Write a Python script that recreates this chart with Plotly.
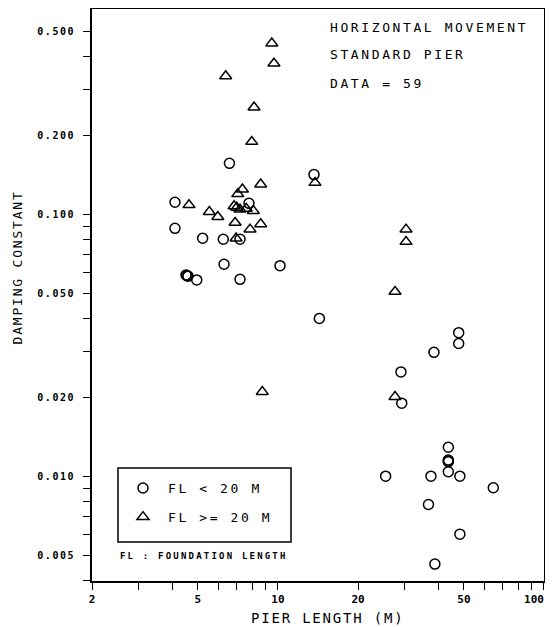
import plotly.graph_objects as go
import math

# ---- data (pier length [m], damping constant) ----
circle_x = [6.57, 13.66, 4.10, 7.78, 4.10, 5.21, 6.23, 7.20, 6.27, 10.18,
            4.51, 4.59, 4.55, 4.95, 7.20, 14.31, 47.8, 47.8, 38.6, 29.0,
            29.2, 43.7, 43.7, 43.7, 43.7, 43.7, 25.4, 37.6, 48.3, 64.5,
            36.8, 48.3, 38.9]
circle_y = [0.1563, 0.1416, 0.111, 0.110, 0.0883, 0.0809, 0.0802, 0.0803, 0.0644, 0.0636,
            0.0586, 0.0580, 0.0583, 0.0561, 0.0564, 0.0400, 0.0353, 0.0321, 0.0297, 0.0250,
            0.0190, 0.0129, 0.01152, 0.01135, 0.01143, 0.0104, 0.0100, 0.0100, 0.0100, 0.00903,
            0.0078, 0.00601, 0.00462]

tri_x = [9.48, 9.66, 6.36, 8.13, 7.97, 8.61, 13.78, 7.35, 7.06, 4.63,
         6.84, 7.20, 8.08, 5.52, 5.94, 6.90, 8.61, 7.85, 6.96, 30.3,
         30.3, 27.55, 27.55, 8.73, 7.6, 7.0]
tri_y = [0.449, 0.376, 0.3366, 0.2557, 0.189, 0.130, 0.1318, 0.1244, 0.1194, 0.1084,
         0.1074, 0.1043, 0.1030, 0.1021, 0.0977, 0.0928, 0.0917, 0.0875, 0.0809, 0.0875,
         0.0785, 0.0506, 0.0201, 0.0210, 0.1050, 0.1060]

x_tickvals = [2, 3, 4, 5, 6, 7, 8, 9, 10, 20, 30, 40, 50, 60, 70, 80, 90, 100]
# the last label sits at the right edge; trailing no-break spaces nudge it left like the original
x_ticklabels = {2: "2", 5: "5", 10: "10", 20: "20", 50: "50", 100: "100\u00a0\u00a0\u00a0"}
y_tickvals = [0.004, 0.005, 0.006, 0.007, 0.008, 0.009, 0.01, 0.02, 0.03, 0.04, 0.05,
              0.06, 0.07, 0.08, 0.09, 0.1, 0.2, 0.3, 0.4, 0.5]
y_ticklabels = {0.005: "0.005", 0.01: "0.010", 0.02: "0.020", 0.05: "0.050",
                0.1: "0.100", 0.2: "0.200", 0.5: "0.500"}

FONT = "DejaVu Sans Mono"


def sp(text, px):
    if not text:
        return ""
    return f'<span style="letter-spacing:{px}px">{text}</span>'


fig = go.Figure()
fig.add_trace(go.Scatter(
    x=circle_x, y=circle_y, mode="markers", name=sp("FL &lt; 20 M", 2.6),
    legendgroup="a",
    marker=dict(symbol="circle-open", size=10, color="black", line=dict(width=1.5, color="black"))))
fig.add_trace(go.Scatter(
    x=tri_x, y=tri_y, mode="markers", name=sp("FL &gt;= 20 M", 2.6),
    legendgroup="b",
    marker=dict(symbol="triangle-up-open", size=10.5, color="black", line=dict(width=1.5, color="black"))))

fig.update_xaxes(
    type="log", range=[math.log10(2) - 0.0002, 2.0002], automargin=False,
    tickvals=x_tickvals,
    ticktext=[x_ticklabels.get(v, "") for v in x_tickvals], tickangle=0,
    ticklabeloverflow="allow",
    ticks="outside", ticklen=7, tickwidth=1.3, tickcolor="black",
    showline=True, linecolor="black", linewidth=1.5, mirror=True,
    showgrid=False, zeroline=False,
    tickfont=dict(family=FONT, size=11, color="black", weight="bold"),
)
fig.update_yaxes(
    type="log", range=[-2.400, -0.217], automargin=False,
    tickvals=y_tickvals,
    ticktext=[sp(y_ticklabels.get(v, ""), 1.6) for v in y_tickvals], tickangle=0,
    ticklabeloverflow="allow",
    ticks="outside", ticklen=7, tickwidth=1.3, tickcolor="black",
    showline=True, linecolor="black", linewidth=1.5, mirror=True,
    showgrid=False, zeroline=False, ticklabelstandoff=6,
    tickfont=dict(family=FONT, size=10, color="black", weight="bold"),
)

ann_font = dict(family=FONT, size=13, color="black")
annotations = [
    dict(text=sp("HORIZONTAL MOVEMENT", 2.6), x=0.522, y=0.967),
    dict(text=sp("STANDARD PIER", 2.6), x=0.522, y=0.9196),
    dict(text=sp("DATA = 59", 2.6), x=0.522, y=0.8706),
]
for a in annotations:
    fig.add_annotation(xref="paper", yref="paper", xanchor="left", yanchor="middle",
                       showarrow=False, font=ann_font, **a)

fig.add_annotation(text=sp("FL : FOUNDATION LENGTH", 2.2), xref="paper", yref="paper",
                   x=0.0575, y=0.0437, xanchor="left", yanchor="middle", showarrow=False,
                   font=dict(family=FONT, size=9, color="black", weight="bold"))
fig.add_annotation(text=sp("PIER LENGTH (M)", 1.8), xref="paper", yref="paper",
                   x=0.522, y=-0.0647, xanchor="center", yanchor="middle", showarrow=False,
                   font=dict(family=FONT, size=14, color="black"))
fig.add_annotation(text=sp("DAMPING CONSTANT", 1.8), xref="paper", yref="paper",
                   x=-0.164, y=0.548, xanchor="center", yanchor="middle", showarrow=False,
                   textangle=-90, font=dict(family=FONT, size=13, color="black"))

# legend frame
fig.add_shape(type="rect", xref="paper", yref="paper",
              x0=0.0575, x1=0.4403, y0=0.0682, y1=0.1976,
              line=dict(color="black", width=1.5), fillcolor="rgba(0,0,0,0)")

# page body has an 8px margin: offset the plot so it lands where intended
fig.update_layout(
    template="none",
    width=553, height=619, autosize=False,
    margin=dict(l=84, r=17, t=1, b=46, autoexpand=False),
    paper_bgcolor="white", plot_bgcolor="white",
    showlegend=True,
    legend=dict(x=0.0575, y=0.1888, xanchor="left", yanchor="top",
                borderwidth=0, bgcolor="rgba(0,0,0,0)",
                font=dict(family=FONT, size=13, color="black"),
                tracegroupgap=9, itemwidth=40),
)

fig.write_html("out.html")
